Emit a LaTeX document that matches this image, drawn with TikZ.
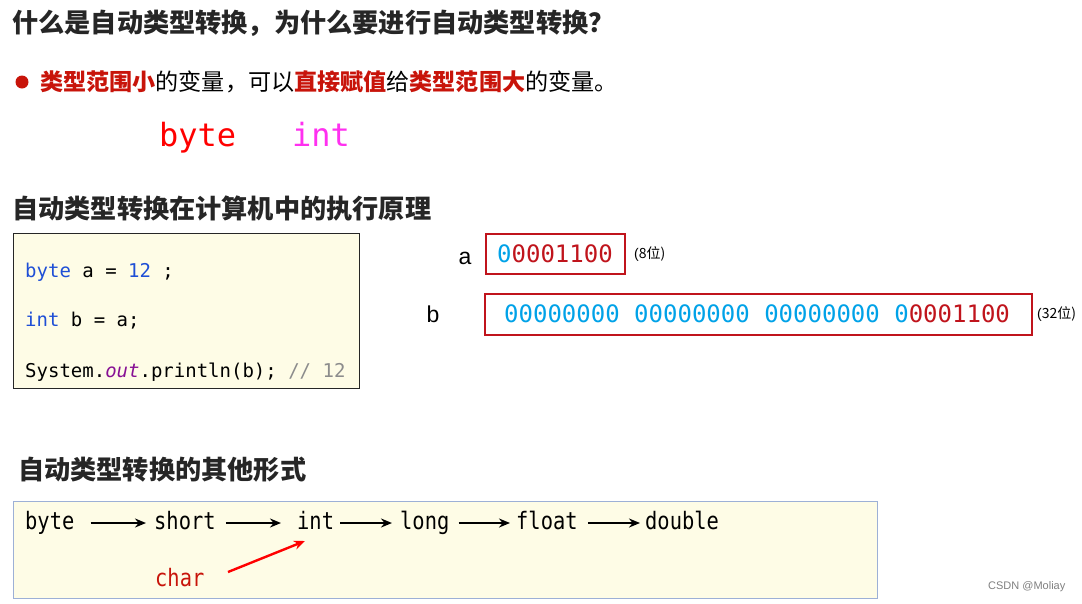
\documentclass[tikz,border=0pt]{standalone}
\usepackage{fontspec}
\usetikzlibrary{arrows.meta}
\newfontfamily\cjk{Noto Sans CJK SC}
\newfontfamily\mono{DejaVu Sans Mono}
\newfontfamily\monon{DejaVu Sans Mono}[FakeStretch=0.85]
\newfontfamily\sans{Liberation Sans}
\definecolor{titlec}{HTML}{262626}
\definecolor{emred}{HTML}{C8140A}
\definecolor{boxred}{HTML}{C0141C}
\definecolor{bitblue}{HTML}{00A2E8}
\definecolor{codeblue}{HTML}{1F4FD6}
\definecolor{codepurple}{HTML}{871094}
\definecolor{codegray}{HTML}{8C8C8C}
\definecolor{paper}{HTML}{FEFCE6}
\definecolor{bluegray}{HTML}{9DB0D6}
\definecolor{brightmag}{HTML}{FF30F0}
\tikzset{
  heading/.style={anchor=west, inner sep=0pt, text=titlec, font=\cjk\bfseries\fontsize{26.2}{30}\selectfont},
  codeline/.style={anchor=base west, inner sep=0pt, font=\mono\fontsize{19}{22}\selectfont},
  bits/.style={anchor=base west, inner sep=0pt, font=\mono\fontsize{24}{28}\selectfont},
  varname/.style={anchor=base, inner sep=0pt, font=\sans\fontsize{23}{26}\selectfont},
  note/.style={anchor=west, inner sep=0pt, font=\sans\fontsize{14}{16}\selectfont},
  bitbox/.style={draw=boxred, line width=2pt},
  chain/.style={anchor=base west, inner sep=0pt, font=\monon\fontsize{24}{28}\selectfont},
  chainarrow/.style={line width=2.6pt, -{Stealth[length=11pt,width=9pt]}},
}
\begin{document}
\begin{tikzpicture}[x=1pt,y=-1pt]
\useasboundingbox[fill=white] (0,0) rectangle (1082,603);
% title
\node[heading] (title) at (12,23) {什么是自动类型转换，为什么要进行自动类型转换？};
% bullet
\fill[emred] (22,82) circle (6.5);
\node[anchor=west, inner sep=0pt, font=\cjk\fontsize{23.1}{27}\selectfont] (bullet) at (40,82)
  {\textcolor{emred}{\bfseries 类型范围小}的变量，可以\textcolor{emred}{\bfseries 直接赋值}给\textcolor{emred}{\bfseries 类型范围大}的变量。};
\node[anchor=base west, inner sep=0pt, text=red, font=\mono\fontsize{32}{36}\selectfont] (bytebig) at (159,146) {byte};
\node[anchor=base west, inner sep=0pt, text=brightmag, font=\mono\fontsize{32}{36}\selectfont] (intbig) at (292,146) {int};
% section 2
\node[heading] (sec2) at (12,209) {自动类型转换在计算机中的执行原理};
\node[draw=titlec, line width=0.8pt, fill=paper, minimum width=346pt, minimum height=155pt, anchor=north west, inner sep=0pt] (codebox) at (13,233) {};
\node[codeline] (c1) at (25,277) {\textcolor{codeblue}{byte} a = \textcolor{codeblue}{12} ;};
\node[codeline] (c2) at (25,326) {\textcolor{codeblue}{int} b = a;};
\node[codeline] (c3) at (25,377) {System.\textcolor{codepurple}{\itshape out}.println(b); \textcolor{codegray}{// 12}};
% bit boxes
\node[varname] (va) at (465,264) {a};
\node[bitbox, minimum width=139pt, minimum height=40pt, anchor=north west, inner sep=0pt] (boxa) at (485,233) {};
\node[bits] (bitsa) at (497,262) {\textcolor{bitblue}{0}\textcolor{boxred}{0001100}};
\node[note] (n8) at (634,254) {(\cjk 8位)};
\node[varname] (vb) at (433,322) {b};
\node[bitbox, minimum width=547pt, minimum height=41pt, anchor=north west, inner sep=0pt] (boxb) at (484,293) {};
\node[bits] (bitsb) at (504,322) {\textcolor{bitblue}{00000000 00000000 00000000 0}\textcolor{boxred}{0001100}};
\node[note] (n32) at (1037,314) {(\cjk 32位)};
% section 3
\node[heading] (sec3) at (18,470) {自动类型转换的其他形式};
\node[draw=bluegray, line width=0.8pt, fill=paper, minimum width=864pt, minimum height=97pt, anchor=north west, inner sep=0pt] (chainbox) at (13,501) {};
\node[chain] (tbyte) at (25,529) {byte};
\node[chain] (tshort) at (154,529) {short};
\node[chain] (tint) at (297,529) {int};
\node[chain] (tlong) at (400,529) {long};
\node[chain] (tfloat) at (516,529) {float};
\node[chain] (tdouble) at (645,529) {double};
\node[chain, text=emred] (tchar) at (155,586) {char};
\coordinate (a1s) at (92,523); \coordinate (a1e) at (146,523);
\draw[chainarrow] (tbyte.east |- a1s) ++(16,0) -- ([xshift=-8pt]tshort.west |- a1e);
\draw[chainarrow] ([xshift=10pt]tshort.east |- a1s) -- ([xshift=-16pt]tint.west |- a1e);
\draw[chainarrow] ([xshift=6pt]tint.east |- a1s) -- ([xshift=-8pt]tlong.west |- a1e);
\draw[chainarrow] ([xshift=9pt]tlong.east |- a1s) -- ([xshift=-6pt]tfloat.west |- a1e);
\draw[chainarrow] ([xshift=10pt]tfloat.east |- a1s) -- ([xshift=-5pt]tdouble.west |- a1e);
\coordinate (intfoot) at (305,541);
\coordinate (charhead) at (228,572);
\draw[line width=2.4pt, red, -{Stealth[length=11pt,width=9pt]}] (charhead) -- (intfoot);
\node[anchor=west, inner sep=0pt, text=gray, font=\sans\fontsize{11}{13}\selectfont] (wm) at (988,587) {CSDN @Moliay};
\end{tikzpicture}
\end{document}
